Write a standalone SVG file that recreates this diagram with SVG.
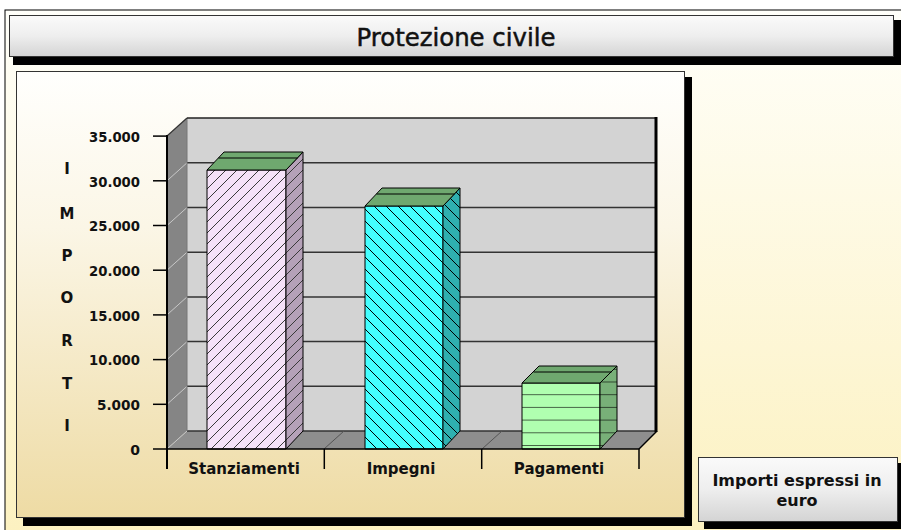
<svg xmlns="http://www.w3.org/2000/svg" width="901" height="530" viewBox="0 0 901 530">
<defs>
<linearGradient id="bg" x1="0" y1="0" x2="0" y2="1"><stop offset="0" stop-color="#fffffa"/><stop offset="1" stop-color="#fcf1c0"/></linearGradient>
<linearGradient id="panel" x1="0" y1="0" x2="0" y2="1"><stop offset="0" stop-color="#fffffd"/><stop offset="0.35" stop-color="#fbf6e6"/><stop offset="1" stop-color="#eedba4"/></linearGradient>
<linearGradient id="btn" x1="0" y1="0" x2="0" y2="1"><stop offset="0" stop-color="#fafafa"/><stop offset="0.5" stop-color="#eeeeee"/><stop offset="1" stop-color="#d4d4d4"/></linearGradient>
<pattern id="hatchA" patternUnits="userSpaceOnUse" width="11" height="11"><path d="M-1,12 L12,-1 M-1,1 L1,-1 M10,12 L12,10" stroke="#3a3a3a" stroke-width="1" fill="none"/></pattern>
<pattern id="hatchB" patternUnits="userSpaceOnUse" width="12" height="12"><path d="M-1,-1 L13,13 M-1,11 L1,13 M11,-1 L13,1" stroke="#000" stroke-width="1" fill="none"/></pattern>
<pattern id="hatchC" patternUnits="userSpaceOnUse" x="0" y="0.5" width="12" height="12.7"><path d="M0,0 L12,0" stroke="#000" stroke-width="1.2" fill="none"/></pattern>
</defs>
<style>
.lbl{font-family:"DejaVu Sans","Liberation Sans",sans-serif;font-weight:bold;fill:#111}
.ytk{font-size:14px;text-anchor:end}
.yt{font-size:15px;text-anchor:middle}
.cat{font-size:15px;text-anchor:middle}
.edge{stroke:#000;stroke-width:1;stroke-linejoin:round}
.grid{stroke:#333;stroke-width:1.5}
.lgrid{stroke:#c8c8c8;stroke-width:1}
.tick{stroke:#000;stroke-width:1.5}
</style>
<rect x="0" y="0" width="901" height="530" fill="#fff"/>
<rect x="5" y="10" width="900" height="525" fill="url(#bg)" stroke="#000" stroke-width="1"/>

<g id="title">
<rect x="13" y="20" width="888" height="45" fill="#000"/>
<rect x="9.5" y="15.5" width="884" height="41" fill="url(#btn)" stroke="#333" stroke-width="1"/>
<text x="456" y="46" font-family="DejaVu Sans, Liberation Sans, sans-serif" font-size="24" text-anchor="middle" fill="#111" stroke="#111" stroke-width="0.5" textLength="199" lengthAdjust="spacingAndGlyphs">Protezione civile</text>
</g>

<g id="chart-panel">
<rect x="23" y="77" width="669" height="449" fill="#000"/>
<rect x="16.5" y="71.5" width="668" height="446" fill="url(#panel)" stroke="#333" stroke-width="1"/>
</g>

<g id="plot">
<polygon points="167,136 187,118 187,431 167,449" fill="#858585"/>
<polygon points="167,449 187,431 657,431 639,449" fill="#8e8e8e"/>
<rect x="187" y="118" width="470" height="313" fill="#d3d3d3"/>
<g class="lgrid">
<line x1="167" y1="449" x2="187" y2="431"/>
<line x1="167" y1="404.3" x2="187" y2="386.3"/>
<line x1="167" y1="359.6" x2="187" y2="341.6"/>
<line x1="167" y1="314.9" x2="187" y2="296.9"/>
<line x1="167" y1="270.2" x2="187" y2="252.2"/>
<line x1="167" y1="225.5" x2="187" y2="207.5"/>
<line x1="167" y1="180.8" x2="187" y2="162.8"/>
</g>
<g class="grid">
<line x1="187" y1="386.3" x2="657" y2="386.3"/>
<line x1="187" y1="341.6" x2="657" y2="341.6"/>
<line x1="187" y1="296.9" x2="657" y2="296.9"/>
<line x1="187" y1="252.2" x2="657" y2="252.2"/>
<line x1="187" y1="207.5" x2="657" y2="207.5"/>
<line x1="187" y1="162.8" x2="657" y2="162.8"/>
<line x1="187" y1="431" x2="657" y2="431"/>
</g>
<line x1="187" y1="118" x2="187" y2="431" stroke="#777" stroke-width="1"/>
<line x1="187" y1="118" x2="657" y2="118" stroke="#222" stroke-width="1.5"/>
<line x1="656" y1="117" x2="656" y2="432" stroke="#000" stroke-width="3"/>
<line x1="167" y1="136" x2="187" y2="118" stroke="#333" stroke-width="1.2"/>
<g stroke="#555" stroke-width="1">
<line x1="324" y1="449" x2="344" y2="431"/>
<line x1="482" y1="449" x2="502" y2="431"/>
</g>
<line x1="639" y1="449" x2="657" y2="431" stroke="#000" stroke-width="1.5"/>
</g>

<g id="bar-stanziamenti">
<rect x="207" y="170" width="79" height="279" fill="#f5e2f8"/>
<rect x="207" y="170" width="79" height="279" fill="url(#hatchA)" class="edge"/>
<polygon points="286,170 303,152 303,431 286,449" fill="#b5a1b8"/>
<polygon points="286,170 303,152 303,431 286,449" fill="url(#hatchA)" class="edge"/>
<polygon points="207,170 224,152 303,152 286,170" fill="#6fa86f" class="edge"/>
<line x1="218.5" y1="158" x2="297.5" y2="158" stroke="#000" stroke-width="1"/>
</g>

<g id="bar-impegni">
<rect x="365" y="206" width="78" height="243" fill="#44ffff"/>
<rect x="365" y="206" width="78" height="243" fill="url(#hatchB)" class="edge"/>
<polygon points="443,206 460,188 460,431 443,449" fill="#2fb0b0"/>
<polygon points="443,206 460,188 460,431 443,449" fill="url(#hatchB)" class="edge"/>
<polygon points="365,206 382,188 460,188 443,206" fill="#6fa86f" class="edge"/>
<line x1="376.5" y1="194" x2="454.5" y2="194" stroke="#000" stroke-width="1"/>
</g>

<g id="bar-pagamenti">
<rect x="522" y="383" width="78" height="66" fill="#b0ffb0"/>
<rect x="522" y="383" width="78" height="66" fill="url(#hatchC)" class="edge"/>
<polygon points="600,383 617,366 617,431 600,449" fill="#78b078"/>
<polygon points="600,383 617,366 617,431 600,449" fill="url(#hatchC)" class="edge"/>
<polygon points="522,383 539,366 617,366 600,383" fill="#6fa86f" class="edge"/>
<line x1="533.5" y1="372" x2="611.5" y2="372" stroke="#000" stroke-width="1"/>
</g>

<g id="axes">
<line x1="167" y1="135" x2="167" y2="469" stroke="#000" stroke-width="2"/>
<line x1="153" y1="449" x2="639" y2="449" stroke="#000" stroke-width="1.5"/>
<g class="tick">
<line x1="153" y1="404.3" x2="167" y2="404.3"/>
<line x1="153" y1="359.6" x2="167" y2="359.6"/>
<line x1="153" y1="314.9" x2="167" y2="314.9"/>
<line x1="153" y1="270.2" x2="167" y2="270.2"/>
<line x1="153" y1="225.5" x2="167" y2="225.5"/>
<line x1="153" y1="180.8" x2="167" y2="180.8"/>
<line x1="153" y1="136.1" x2="167" y2="136.1"/>
<line x1="324.3" y1="449" x2="324.3" y2="469"/>
<line x1="481.7" y1="449" x2="481.7" y2="469"/>
<line x1="639" y1="449" x2="639" y2="469"/>
</g>
<g class="lbl ytk">
<text x="140" y="454.5">0</text>
<text x="140" y="409.5" textLength="43" lengthAdjust="spacingAndGlyphs">5.000</text>
<text x="140" y="365" textLength="51" lengthAdjust="spacingAndGlyphs">10.000</text>
<text x="140" y="320.5" textLength="51" lengthAdjust="spacingAndGlyphs">15.000</text>
<text x="140" y="275.5" textLength="51" lengthAdjust="spacingAndGlyphs">20.000</text>
<text x="140" y="231" textLength="51" lengthAdjust="spacingAndGlyphs">25.000</text>
<text x="140" y="186.5" textLength="51" lengthAdjust="spacingAndGlyphs">30.000</text>
<text x="140" y="141.5" textLength="51" lengthAdjust="spacingAndGlyphs">35.000</text>
</g>
<g class="lbl yt">
<text x="67" y="174">I</text>
<text x="67" y="219">M</text>
<text x="67" y="261">P</text>
<text x="67" y="303">O</text>
<text x="67" y="346">R</text>
<text x="67" y="389">T</text>
<text x="67" y="431">I</text>
</g>
<g class="lbl cat">
<text x="244" y="474">Stanziamenti</text>
<text x="401" y="474">Impegni</text>
<text x="559" y="474">Pagamenti</text>
</g>
</g>

<g id="note">
<rect x="704" y="463" width="200" height="66" fill="#000"/>
<rect x="698.5" y="457.5" width="199" height="64" fill="url(#btn)" stroke="#333" stroke-width="1"/>
<text class="lbl" x="797" y="486" font-size="16" text-anchor="middle">Importi espressi in</text>
<text class="lbl" x="797" y="506" font-size="16" text-anchor="middle">euro</text>
</g>
</svg>
